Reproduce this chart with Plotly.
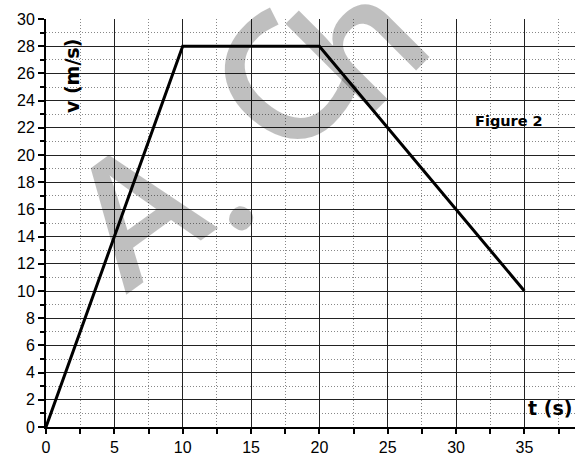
import plotly.graph_objects as go

# Velocity-time profile
t_values = [0, 10, 20, 35]
v_values = [0, 28, 28, 10]

x_tick_vals = [0, 5, 10, 15, 20, 25, 30, 35]
y_tick_vals = list(range(0, 31, 2))

W, H = 575, 458
M = dict(l=46, r=0, t=19, b=31)


def px_to_paper(px, py):
    """Convert pixel position on the page to paper coordinates."""
    pw = W - M["l"] - M["r"]
    ph = H - M["t"] - M["b"]
    return (px - M["l"]) / pw, (H - M["b"] - py) / ph


fig = go.Figure()
fig.add_trace(go.Scatter(
    x=t_values, y=v_values, mode="lines",
    line=dict(color="black", width=3),
    hoverinfo="skip", showlegend=False, cliponaxis=False,
))

label_font = dict(family="DejaVu Sans", size=19, color="black", weight="bold")

annotations = []

# faint watermark signature drawn letter by letter
mark_color = "rgba(0,0,0,0.25)"
for ch, (px, py), ang, size in [
    ("A", (133, 207), -36, 172),
    (".", (200, 186), -52, 160),
    ("C", (277, 80), -50, 180),
    ("h", (356, 40), -45, 165),
]:
    xp, yp = px_to_paper(px, py)
    annotations.append(dict(
        x=xp, y=yp, xref="paper", yref="paper", text=ch, textangle=ang,
        font=dict(family="Open Sans", size=size, color=mark_color, weight=600),
        showarrow=False, xanchor="center", yanchor="middle",
    ))

for a in [
    dict(x=1.9, y=25.8, text="v (m/s)", textangle=-90, font=label_font),
    dict(x=36.9, y=1.37, text="t (s)", font=label_font),
    dict(x=33.9, y=22.5, text="Figure 2",
         font=dict(family="DejaVu Sans", size=14.5, color="black", weight="bold")),
]:
    a.update(xref="x", yref="y", showarrow=False, xanchor="center", yanchor="middle")
    annotations.append(a)

fig.update_layout(
    width=W, height=H,
    margin=M,
    paper_bgcolor="white", plot_bgcolor="white",
    annotations=annotations,
    xaxis=dict(
        range=[0, 38.7], tickvals=x_tick_vals,
        showgrid=True, gridcolor="#222", gridwidth=1,
        zeroline=False, showline=True, linecolor="black", linewidth=2,
        ticks="outside", ticklen=5, tickcolor="black", tickwidth=2,
        tickfont=dict(family="Liberation Sans", size=16, color="black"),
        minor=dict(dtick=2.5, tick0=0, showgrid=True, gridcolor="#888", griddash="1px,2px",
                   ticks="outside", ticklen=5, tickcolor="black", tickwidth=2),
        fixedrange=True,
    ),
    yaxis=dict(
        range=[0, 30], tickvals=y_tick_vals,
        showgrid=True, gridcolor="#222", gridwidth=1,
        zeroline=False, showline=True, linecolor="black", linewidth=2,
        ticks="outside", ticklen=6, tickcolor="black", tickwidth=2,
        tickfont=dict(family="Liberation Sans", size=16, color="black"),
        minor=dict(dtick=1, tick0=0, showgrid=True, gridcolor="#888", griddash="1px,2px",
                   ticks="outside", ticklen=4, tickcolor="black", tickwidth=2),
        fixedrange=True,
    ),
)

fig.write_html("out.html")
